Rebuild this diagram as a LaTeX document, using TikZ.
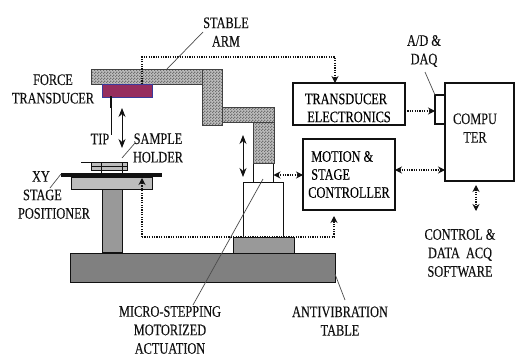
\documentclass[tikz,border=0pt]{standalone}
\usepackage{fontspec}
\setmainfont{Liberation Serif}
\newfontfamily\lblfont{Liberation Serif}[FakeBold=0.2,FakeStretch=0.77]
\usetikzlibrary{arrows.meta,patterns}
\definecolor{ink}{HTML}{111111}
\definecolor{magentapad}{HTML}{962D5E}
\definecolor{padedge}{HTML}{3A3A9A}
\definecolor{midgray}{HTML}{999999}
\definecolor{lightgray}{HTML}{BDBDBD}
\definecolor{tablegray}{HTML}{808080}
\pgfdeclarepatternformonly{armdots}{\pgfqpoint{0pt}{0pt}}{\pgfqpoint{2.6pt}{2.6pt}}{\pgfqpoint{2.6pt}{2.6pt}}{
  \pgfpathrectangle{\pgfqpoint{0pt}{0pt}}{\pgfqpoint{1.3pt}{1.3pt}}
  \pgfpathrectangle{\pgfqpoint{1.3pt}{1.3pt}}{\pgfqpoint{1.3pt}{1.3pt}}
  \pgfusepath{fill}}
\tikzset{
  part/.style={draw=ink,line width=0.8pt,inner sep=0pt,outer sep=0pt,fill=midgray},
  armpart/.style={draw=ink!80,line width=1pt,inner sep=0pt,outer sep=0pt,
                  preaction={fill=lightgray},pattern=armdots,pattern color=ink!60},
  boxpart/.style={draw=ink,line width=1.5pt,fill=white,inner sep=0pt,outer sep=0pt,
                  font=\lblfont\fontsize{16}{18}\selectfont},
  lbl/.style={inner sep=0pt,align=center,text=ink,font=\lblfont\fontsize{16}{18.5}\selectfont},
  leader/.style={draw=ink!75,line width=0.7pt},
  sigarr/.style={-{Stealth[length=7pt,width=7pt]},draw=ink,line width=1.1pt,
                 dash pattern=on 1.2pt off 1.2pt},
  sigtwo/.style={{Stealth[length=7pt,width=7pt]}-{Stealth[length=7pt,width=7pt]},draw=ink,
                 line width=1.1pt,dash pattern=on 1.2pt off 1.2pt},
  movearr/.style={{Stealth[length=9pt,width=7pt]}-{Stealth[length=9pt,width=7pt]},
                  draw=ink,line width=0.8pt}
}
\begin{document}
\begin{tikzpicture}[x=1pt,y=-1pt]
    \useasboundingbox (0,0) rectangle (515,356);

    % table and stage
    \node[part,fill=tablegray,minimum width=265pt,minimum height=29pt] (table) at (202.5,267.5) {};
    \node[part,minimum width=20pt,minimum height=63pt] (post) at (112,221) {};
    \node[part,fill=lightgray,minimum width=81pt,minimum height=12pt] (stage) at (111.5,183) {};
    \node[fill=ink,inner sep=0pt,minimum width=101pt,minimum height=4pt] (plate) at (111.5,175) {};
    \node[part,fill=lightgray,line width=0.6pt,minimum width=36pt,minimum height=8pt] (holder) at (109,166) {};
    \draw[ink,line width=0.6pt] (81,162) -- (holder.north east);
    \draw[ink,line width=0.5pt] (holder.west) -- (holder.east);
    \draw[ink,line width=0.5pt] (101,162) -- (101,173);
    \draw[ink,line width=0.5pt] (122,162) -- (122,173);

    % motor column
    \node[part,minimum width=61pt,minimum height=16pt] (base) at (263.5,245) {};
    \node[part,fill=white,minimum width=40pt,minimum height=55pt] (motor) at (263,209.5) {};
    \node[part,fill=white,minimum width=20pt,minimum height=19pt] (shaft) at (263.5,172.5) {};

    % arm
    \node[armpart,minimum width=21pt,minimum height=41pt] (armc) at (263.5,142.5) {};
    \node[armpart,minimum width=52pt,minimum height=15pt] (armb) at (248,114.5) {};
    \node[armpart,minimum width=131pt,minimum height=15pt] (arma) at (156.5,76.5) {};
    \node[armpart,minimum width=20pt,minimum height=56pt] (armd) at (212,97) {};
    \node[draw=padedge,fill=magentapad,line width=0.7pt,inner sep=0pt,
          minimum width=50pt,minimum height=13pt] (pad) at (127,90.5) {};
    \draw[ink,line width=1.8pt] (111,96) -- (111,108);
    \draw[ink,line width=0.7pt] (111,108) -- (111,135);
    \draw[movearr] (122,108) -- (122,148);
    \draw[movearr] (243,135) -- (243,177);

    % blocks
    \node[boxpart,minimum width=112pt,minimum height=42pt,align=center] (electronics) at (349,104)
      {\rule{0pt}{18.5pt}\hspace*{-6pt}TRANSDUCER\\ELECTRONICS};
    \node[boxpart,minimum width=92pt,minimum height=71pt,align=left] (controller) at (349,174.5)
      {\hspace*{3pt}MOTION \&\\\hspace*{3pt}STAGE\\CONTROLLER};
    \node[boxpart,minimum width=69pt,minimum height=98pt] (computer) at (479.5,132) {};
    \node[boxpart,minimum width=10pt,minimum height=29pt] (daq) at (440,109.5) {};
    \node[lbl] (computertext) at (475,128) {COMPU\\TER};

    % signal lines
    \coordinate (armtap) at (142,84);
    \coordinate (stagetap) at (142,178);
    \coordinate (softup) at (476,185);
    \coordinate (softdown) at (476,211);
    \draw[sigarr] (armtap) -- (142,57) -- (335,57) -- (335,83);
    \draw[sigarr] (142,237) -- (334,237) -- (334,216);
    \draw[sigarr] (142,237) -- (stagetap);
    \draw[sigarr] (electronics.east |- 0,111) -- (daq.west |- 0,111);
    \draw[sigtwo] (controller.east |- 0,170) -- (computer.west |- 0,170);
    \draw[sigtwo] (shaft.east |- 0,175) -- (controller.west |- 0,175);
    \draw[sigtwo] (softup) -- (softdown);

    % labels
    \node[lbl] (armlbl) at (226,32) {STABLE\\ARM};
    \node[lbl] (forcelbl) at (53,89) {FORCE\\TRANSDUCER};
    \node[lbl] (tiplbl) at (100,139) {TIP};
    \node[lbl] (samplelbl) at (158,148) {SAMPLE\\HOLDER};
    \node[lbl,align=left] (xylbl) at (54,195) {\hspace*{14pt}XY\\\hspace*{5pt}STAGE\\POSITIONER};
    \node[lbl] (microlbl) at (170,330) {MICRO-STEPPING\\MOTORIZED\\ACTUATION};
    \node[lbl] (antilbl) at (340,321) {ANTIVIBRATION\\TABLE};
    \node[lbl] (softlbl) at (460,253) {CONTROL \&\\DATA\ \ ACQ\\SOFTWARE};
    \node[lbl] (daqlbl) at (424,51) {A/D \&\\DAQ};

    % leaders
    \coordinate (armend) at (167,69);
    \coordinate (sampleend) at (122,158);
    \coordinate (xyend) at (61,174);
    \coordinate (shaftend) at (263,179);
    \coordinate (tableend) at (335,274);
    \draw[leader] (203,32) -- (armend);
    \draw[leader] (135,143) -- (sampleend);
    \draw[leader] (xyend) -- (50,188);
    \draw[leader] (shaftend) -- (193,305);
    \draw[leader] (tableend) -- (345,300);
    \draw[leader] (425,72) -- (daq.north west);
  \end{tikzpicture}
\end{document}
